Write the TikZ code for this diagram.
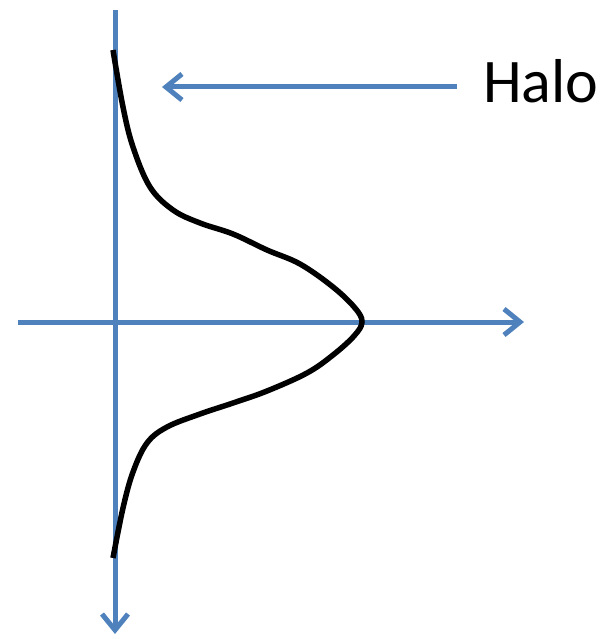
\documentclass[tikz,border=0pt]{standalone}
\usepackage{fontspec}
\setmainfont{Carlito}
\usetikzlibrary{arrows.meta}
\definecolor{axisblue}{HTML}{4F81BD}
\tikzset{
  axisline/.style={draw=axisblue, line width=5pt, -{Straight Barb[length=16pt,width=26pt,line width=5pt]}},
  curveline/.style={draw=black, line width=5.5pt},
  labeltext/.style={font=\fontsize{62}{70}\selectfont, inner sep=0pt, anchor=base west}
}
\begin{document}
\begin{tikzpicture}[x=1pt,y=-1pt]
\useasboundingbox (0,0) rectangle (610,639);
\coordinate (vtop) at (115,10);
\coordinate (vbot) at (115,634);
\coordinate (hleft) at (18,322);
\coordinate (hright) at (524,322);
\coordinate (hstart) at (457,87);
\coordinate (hend) at (162,87);
\node[labeltext] (halo) at (483,103) {Halo};
\draw[axisline] (vtop) -- (vbot);
\draw[axisline] (hleft) -- (hright);
\draw[axisline] (hstart) -- (hend);
\draw[curveline] plot[smooth, tension=0.6] coordinates {
 (113,50) (123,107) (133,147) (150,187) (173,210) (200,223) (233,234) (267,250)
 (300,264) (333,287) (355,308) (362,322) (354,336) (333,355) (307,373) (267,391)
 (233,403) (200,414) (167,427) (147,443) (133,472) (123,508) (113,558)};
\end{tikzpicture}
\end{document}
